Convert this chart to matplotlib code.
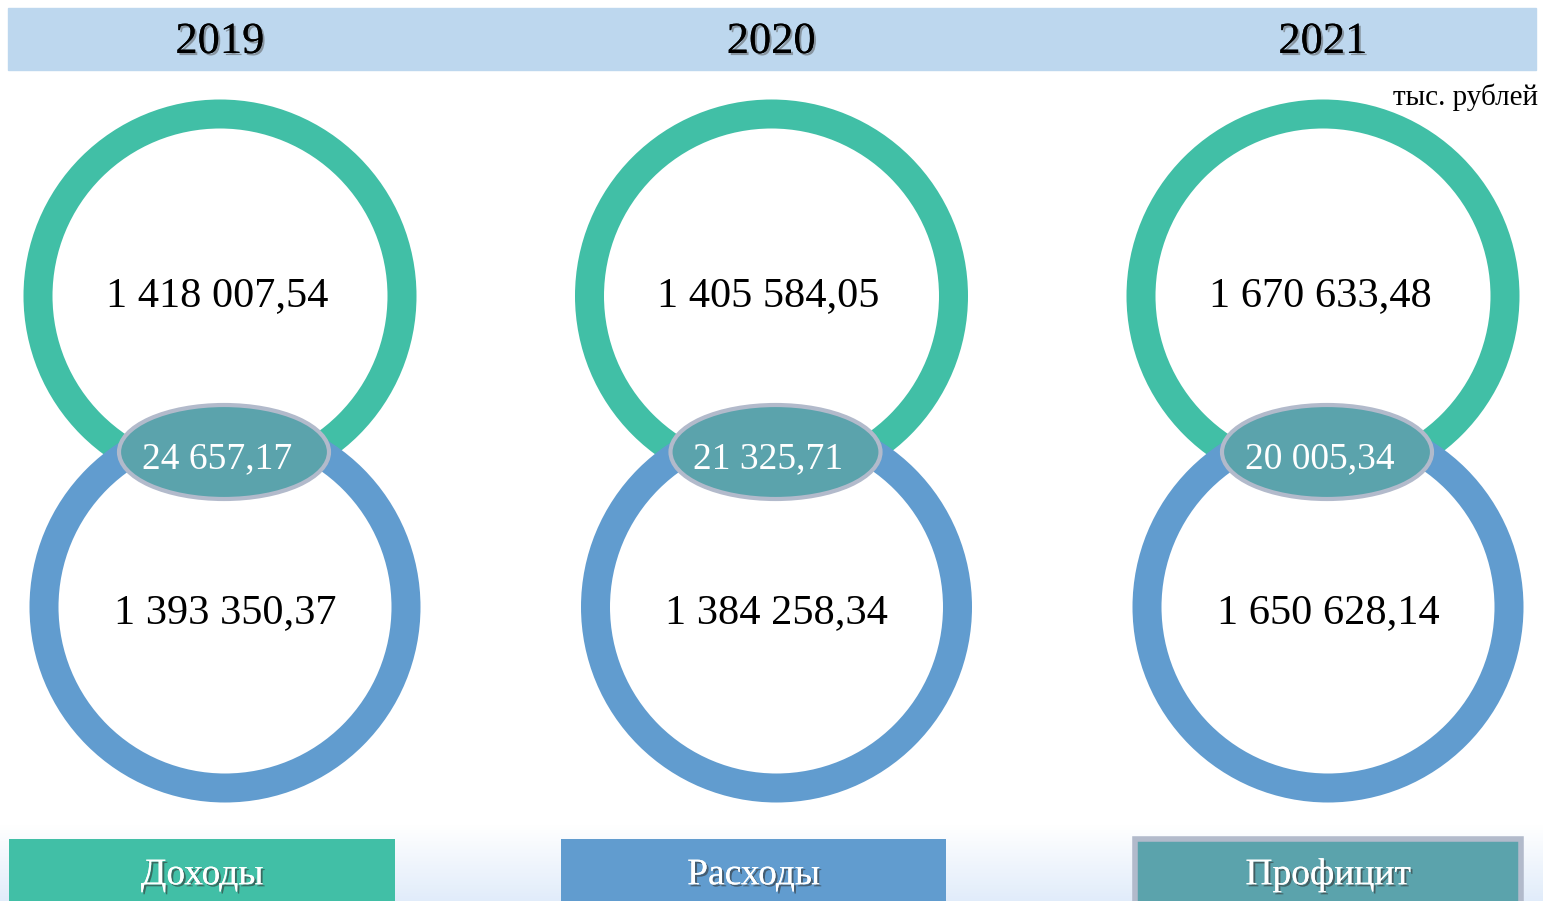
import matplotlib
matplotlib.use("Agg")
import matplotlib.pyplot as plt
import matplotlib.patheffects as pe
import numpy as np
from matplotlib.patches import Circle, Ellipse, Rectangle

# данные
years = ["2019", "2020", "2021"]
dohody = [1418007.54, 1405584.05, 1670633.48]
rashody = [1393350.37, 1384258.34, 1650628.14]
proficit = [24657.17, 21325.71, 20005.34]
legend_labels = ["Доходы", "Расходы", "Профицит"]

C_TEAL = "#41bfa6"
C_BLUE = "#619ccf"
C_PROF = "#5ba3ac"
C_EDGE = "#b2bacb"
C_HEAD = "#bdd7ee"

plt.rcParams["font.family"] = ["Liberation Serif", "DejaVu Serif"]


def fmt(v):
    s = f"{v:,.2f}"
    return s.replace(",", " ").replace(".", ",")


fig = plt.figure(figsize=(15.43, 9.01), dpi=100)
ax = fig.add_axes([0, 0, 1, 1])
ax.set_xlim(0, 1543)
ax.set_ylim(901, 0)
ax.axis("off")

# фон снизу - градиент
grad = np.linspace(0, 1, 100).reshape(-1, 1)
cmap = matplotlib.colors.LinearSegmentedColormap.from_list("g", ["#ffffff", "#e1ecfa"])
ax.imshow(grad, extent=[0, 1543, 901, 825], cmap=cmap, aspect="auto", zorder=0)

# шапка
ax.add_patch(Rectangle((8, 8), 1528, 62, color=C_HEAD, zorder=1))
ax.text(1538, 97, "тыс. рублей", ha="right", va="center", fontsize=21, zorder=5)

for i, y in enumerate(years):
    cx = 220 + i * 551.5
    ax.text(cx, 42, y, ha="center", va="center", fontsize=32,
            path_effects=[pe.withSimplePatchShadow(offset=(1.5, -1.5), shadow_rgbFace="#555555", alpha=0.5),
                          pe.Normal()], zorder=5)

    # кольца
    ax.add_patch(Circle((cx, 296), 182, fill=False, ec=C_TEAL, lw=29 * 0.72, zorder=2))
    ax.add_patch(Circle((cx + 5, 607), 181, fill=False, ec=C_BLUE, lw=29 * 0.72, zorder=3))

    ax.text(cx - 3, 296, fmt(dohody[i]), ha="center", va="center", fontsize=30.5, zorder=5)
    ax.text(cx + 5, 613, fmt(rashody[i]), ha="center", va="center", fontsize=30.5, zorder=5)

    # профицит
    ax.add_patch(Ellipse((cx + 4, 452), 210, 94, fc=C_PROF, ec=C_EDGE, lw=3, zorder=4))
    ax.text(cx - 3, 459, fmt(proficit[i]), ha="center", va="center", fontsize=27,
            color="white", zorder=5)

# легенда
boxes = [(9, 839, 386, C_TEAL, None), (561, 839, 385, C_BLUE, None), (1135, 839, 386, C_PROF, C_EDGE)]
for (x0, y0, w, fc, ec), lab in zip(boxes, legend_labels):
    if ec:
        ax.add_patch(Rectangle((x0, y0), w, 901 - y0 + 10, fc=fc, ec=ec, lw=4, zorder=2))
    else:
        ax.add_patch(Rectangle((x0, y0), w, 901 - y0 + 10, fc=fc, ec="none", zorder=2))
    ax.text(x0 + w / 2, 875, lab, ha="center", va="center",
            fontsize=27, color="white",
            path_effects=[pe.withSimplePatchShadow(offset=(1.5, -1.5), shadow_rgbFace="#333333", alpha=0.6),
                          pe.Normal()], zorder=5)

fig.savefig("out.png", dpi=100)
plt.close(fig)
